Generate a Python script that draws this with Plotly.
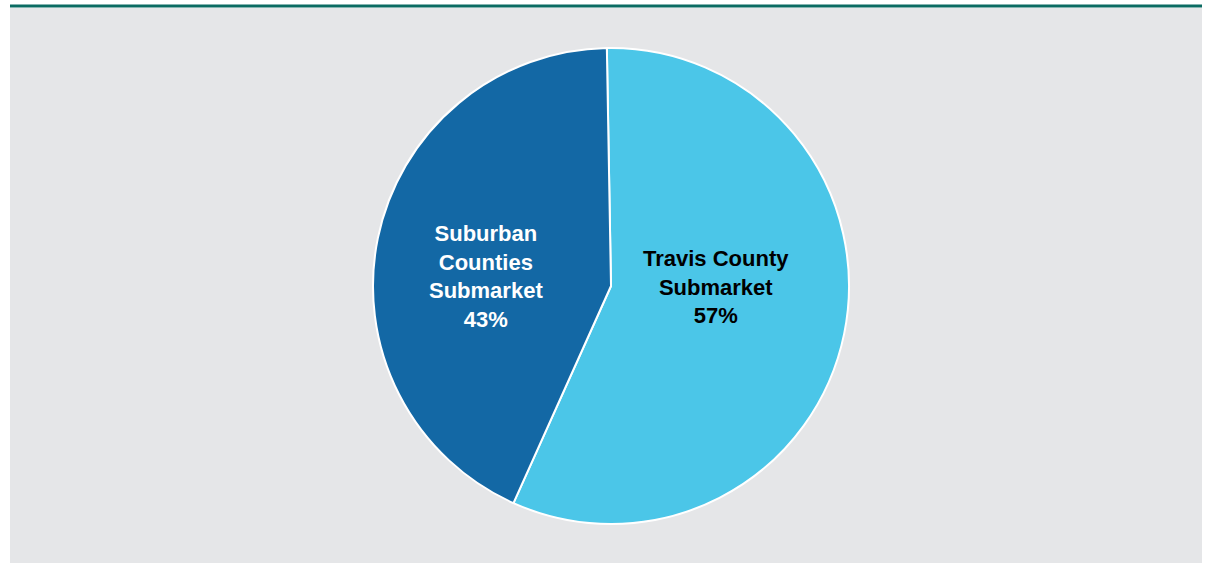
import plotly.graph_objects as go

# Share of the market by submarket
labels = ["Travis County<br>Submarket", "Suburban<br>Counties<br>Submarket"]
shares = [57, 43]
slice_colors = ["#4BC6E8", "#1368A5"]
text_colors = ["#000000", "#FFFFFF"]

W, H = 1205, 563

# label anchor points (pixels from top-left) for each slice's caption
label_xy = [(716, 287), (486, 277)]

fig = go.Figure(
    go.Pie(
        labels=labels,
        values=shares,
        sort=False,
        direction="clockwise",
        rotation=-1,
        marker=dict(colors=slice_colors, line=dict(color="#FFFFFF", width=2)),
        textinfo="none",
        hoverinfo="label+percent",
        showlegend=False,
        domain=dict(x=[373 / W, 849 / W], y=[(H - 524) / H, (H - 48) / H]),
    )
)

total = sum(shares)
annotations = []
for lab, val, col, (px, py) in zip(labels, shares, text_colors, label_xy):
    annotations.append(dict(
        xref="paper", yref="paper", x=px / W, y=1 - py / H,
        xanchor="center", yanchor="middle", showarrow=False, align="center",
        text=f"<b>{lab}<br>{round(100 * val / total)}%</b>",
        font=dict(family="Liberation Sans, Arial, sans-serif", size=22, color=col),
    ))

fig.update_layout(
    width=W,
    height=H,
    margin=dict(l=0, r=0, t=0, b=0),
    paper_bgcolor="#FFFFFF",
    plot_bgcolor="#FFFFFF",
    annotations=annotations,
    shapes=[
        # light grey panel behind the chart
        dict(type="rect", xref="paper", yref="paper", layer="below",
             x0=10 / W, x1=1202 / W, y0=0, y1=(H - 8) / H,
             fillcolor="#E5E6E8", line=dict(width=0)),
        # teal rule along the top
        dict(type="rect", xref="paper", yref="paper", layer="below",
             x0=10 / W, x1=1202 / W, y0=(H - 7.5) / H, y1=(H - 4.5) / H,
             fillcolor="#0B6B62", line=dict(width=0)),
    ],
)

fig.write_html("out.html")
